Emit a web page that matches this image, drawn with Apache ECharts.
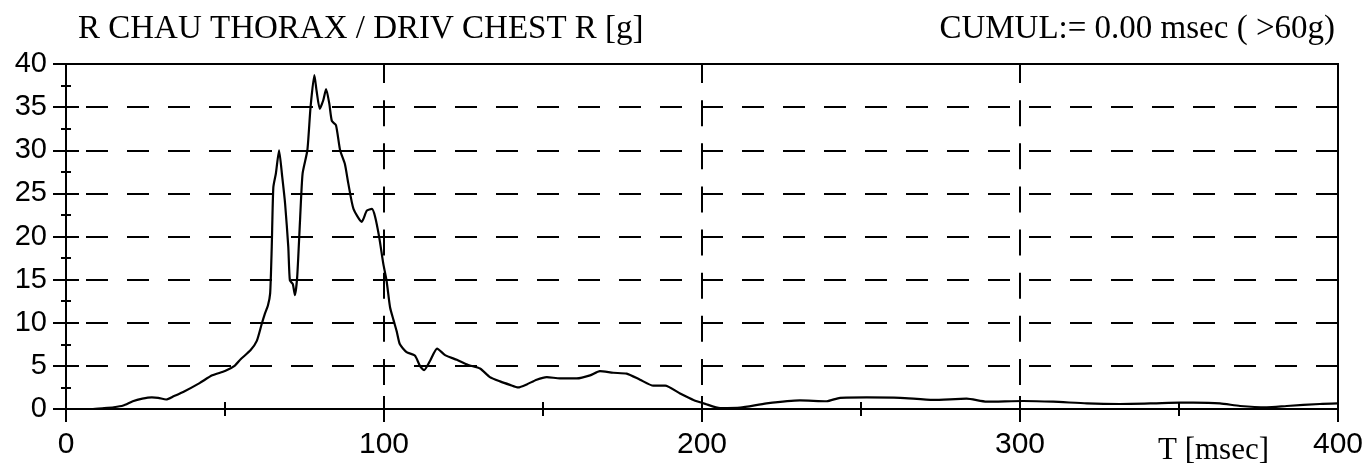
<!DOCTYPE html>
<html>
<head>
<meta charset="utf-8">
<script src="https://cdn.jsdelivr.net/npm/echarts@6/dist/echarts.min.js"></script>
<style>
  html, body { margin: 0; padding: 0; background: #fff; }
  #chart { width: 1372px; height: 472px; }
</style>
</head>
<body>
<div id="chart"></div>
<script>
// Chest acceleration trace (right driver chest, resultant), time in msec, value in g
const timeMs = [
  0, 8, 12, 15, 18, 21, 24, 27, 29, 31.5, 34, 37, 42, 46, 50, 53, 55, 58, 60, 61.5,
  62.5, 63.5, 64.2, 64.7, 65.2, 66, 67, 68, 68.9, 69.9, 70.4, 71.3, 72, 72.7, 73.6, 74.4,
  75.9, 76.9, 78.1, 78.8, 79.8, 80.9, 81.8, 82.8, 83.6, 84.9, 86.2, 87.7, 88.8, 90.4,
  93, 94.6, 96.2, 97.2, 98.5, 99.8, 100.8, 101.9, 103, 104, 105, 107.1, 109.7, 111.3,
  112.6, 114.5, 116.7, 119.2, 122.9, 126.5, 130.2, 133.3, 136.5, 139.6, 142.2, 144.9,
  148, 151.2, 155.3, 160.6, 164.8, 167.9, 172.1, 176.3, 180.5, 184.7, 188.4, 193.1,
  197.3, 201, 205.7, 212, 220.3, 230.8, 239.2, 243.4, 251.8, 262.3, 272.7, 283.2,
  289.5, 301, 310.4, 321, 331.4, 341.9, 350.3, 354.5, 362.9, 369.2, 377.6, 383.9,
  394.3, 400
];
const accelG = [
  0, 0, 0.1, 0.2, 0.4, 0.9, 1.2, 1.35, 1.3, 1.1, 1.5, 2.0, 3.0, 3.9, 4.4, 5.0, 5.8, 6.8, 7.9, 9.8,
  11.0, 12.0, 13.4, 18.8, 25.7, 27.3, 30.0, 26.9, 23.8, 18.8, 14.9, 14.5, 13.2, 15.3, 21.9, 27.3,
  30.0, 35.0, 38.7, 36.9, 34.8, 35.8, 37.1, 35.4, 33.4, 32.9, 30.0, 28.4, 26.1, 23.2,
  21.7, 23.0, 23.2, 22.3, 19.9, 16.8, 14.9, 11.8, 10.3, 9.0, 7.5, 6.6, 6.2, 5.0,
  4.5, 5.6, 7.0, 6.25, 5.7, 5.1, 4.7, 3.7, 3.2, 2.8, 2.5, 2.85,
  3.4, 3.7, 3.55, 3.55, 3.9, 4.4, 4.2, 4.1, 3.4, 2.7, 2.7, 1.8,
  1.05, 0.6, 0.1, 0.15, 0.65, 1.0, 0.9, 1.3, 1.35, 1.3, 1.05, 1.2,
  0.85, 0.93, 0.85, 0.65, 0.58, 0.65, 0.73, 0.73, 0.65, 0.35, 0.2, 0.35,
  0.58, 0.65
];

// Axis ranges and steps
const xRange = [0, 400];
const xStep = 100;
const yRange = [0, 40];
const yStep = 5;

// Header and axis texts
const channelTitle = 'R CHAU THORAX / DRIV CHEST R [g]';
const cumulTitle = 'CUMUL:= 0.00 msec ( >60g)';
const timeAxisName = 'T [msec]';

const seriesData = timeMs.map((t, i) => [t, accelG[i]]);

const ink = '#000';
const sansFont = '"Liberation Sans", Arial, Helvetica, sans-serif';
const serifFont = '"Liberation Serif", "Times New Roman", serif';

// Shared axis pieces: one copy draws ticks outward, its twin draws them inward,
// so every tick crosses the axis line.
function xAxisDef(inside) {
  return {
    type: 'value',
    position: 'bottom',
    min: xRange[0], max: xRange[1], interval: xStep,
    axisLine: { show: true, onZero: false, lineStyle: { color: ink, width: 2 } },
    axisTick: { show: true, inside: inside, length: 13, lineStyle: { color: ink, width: 2 } },
    minorTick: { show: true, splitNumber: 2, length: 7, lineStyle: { color: ink, width: 2 } },
    axisLabel: {
      show: !inside, color: ink, fontFamily: sansFont, fontSize: 30, margin: 21
    },
    splitLine: inside ? { show: false } : {
      show: true, showMinLine: false, showMaxLine: false,
      lineStyle: { color: ink, width: 2, type: [26, 17.125], dashOffset: 7 }
    }
  };
}
function yAxisDef(inside) {
  return {
    type: 'value',
    position: 'left',
    min: yRange[0], max: yRange[1], interval: yStep,
    axisLine: { show: true, onZero: false, lineStyle: { color: ink, width: 2 } },
    axisTick: { show: true, inside: inside, length: 13, lineStyle: { color: ink, width: 2 } },
    minorTick: { show: true, splitNumber: 2, length: 5, lineStyle: { color: ink, width: 2 } },
    axisLabel: {
      show: !inside, color: ink, fontFamily: sansFont, fontSize: 29, margin: 19
    },
    splitLine: inside ? { show: false } : {
      show: true, showMinLine: false, showMaxLine: false,
      lineStyle: { color: ink, width: 2, type: [22, 19], dashOffset: 21 }
    }
  };
}

const chart = echarts.init(document.getElementById('chart'), null, { renderer: 'canvas' });
chart.setOption({
  animation: false,
  backgroundColor: '#fff',
  title: [
    {
      text: channelTitle, left: 78, top: 13, padding: 0,
      textStyle: { fontFamily: serifFont, fontSize: 33, fontWeight: 'normal', color: ink }
    },
    {
      text: cumulTitle, right: 37, top: 13, padding: 0,
      textStyle: { fontFamily: serifFont, fontSize: 33, fontWeight: 'normal', color: ink }
    }
  ],
  grid: {
    show: true, left: 66, top: 64, width: 1272, height: 345,
    borderColor: ink, borderWidth: 2, backgroundColor: 'transparent'
  },
  xAxis: [xAxisDef(false), xAxisDef(true)],
  yAxis: [yAxisDef(false), yAxisDef(true)],
  graphic: [{
    type: 'text', left: 1158, top: 435,
    style: { text: timeAxisName, font: '31px ' + serifFont, fill: ink }
  }],
  series: [{
    type: 'line',
    data: seriesData,
    showSymbol: false,
    smooth: 0.2,
    lineStyle: { color: ink, width: 2.2 },
    z: 5
  }]
});
</script>
</body>
</html>
